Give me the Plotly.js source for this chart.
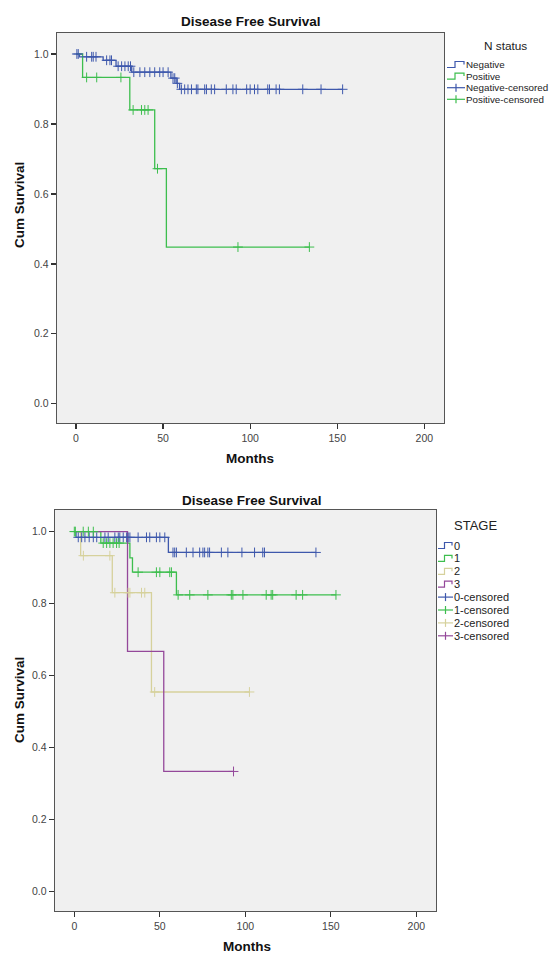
<!DOCTYPE html>
<html><head><meta charset="utf-8">
<script src="https://cdn.plot.ly/plotly-3.0.1.min.js"></script>
<style>html,body{margin:0;padding:0;background:#fff}#chart{width:555px;height:954px}</style>
</head><body><div id="chart"></div>
<script>
// ---------- DATA (months, cumulative survival) ----------
// Chart 1: N status
const nStatusNames = ['Negative', 'Positive'];
const negTimes = [0, 2, 15.6, 23, 32, 54.5, 57.5, 59.5, 153.1];
const negSurv  = [1, 0.992, 0.982, 0.965, 0.948, 0.931, 0.916, 0.899, 0.899];
const negCensored = [0.5, 1.3, 6.1, 9.0, 9.9, 11.5, 17.6, 19.5, 20.4, 24.2, 26.2, 28.1, 30.0, 31.3,
  33.2, 36.7, 39.5, 42.4, 45.2, 48.1, 50.0, 52.9, 55.7, 56.7, 58.2, 60.5, 62.4, 64.3, 66.3, 69.1,
  70.0, 73.9, 74.9, 77.7, 79.6, 86.3, 90.1, 92.0, 98.0, 100.0, 102.5, 104.4, 110.1, 111.1, 114.9,
  116.8, 130.2, 140.7, 153.1];
const posTimes = [0, 3.8, 30.9, 45.2, 51.9, 134];
const posSurv  = [1, 0.933, 0.840, 0.672, 0.448, 0.448];
const posCensored = [6.1, 11.9, 25.8, 32.8, 37.6, 39.5, 41.4, 46.8, 93, 134];

// Chart 2: STAGE
const stageNames = ['0', '1', '2', '3'];
const st0Times = [0, 1, 55, 141.3];
const st0Surv  = [1, 0.984, 0.942, 0.942];
const st0Censored = [2.3, 4.3, 6.2, 8.7, 11.1, 13.1, 17.9, 19.8, 23.7, 25.7, 26.6, 28.6, 30.6, 31.5,
  32.5, 37.3, 42.2, 44.1, 48.0, 50.0, 52.9, 57.7, 58.7, 59.7, 65.5, 69.4, 73.3, 75.2, 76.2, 78.1,
  79.1, 86.0, 89.8, 98.0, 105.4, 110.2, 111.2, 141.3];
const st1Times = [0, 15.5, 32.5, 34, 59.7, 153];
const st1Surv  = [1, 0.968, 0.927, 0.887, 0.824, 0.824];
const st1Censored = [0, 0.6, 5.2, 8.2, 11.1, 16.9, 18.9, 20.8, 22.7, 24.7, 26.2, 37.3, 48.0, 50.0,
  55.8, 56.8, 60.7, 67.5, 78.1, 91.8, 92.7, 98.6, 112.2, 115.1, 116.0, 129.7, 133.5, 153];
const st2Times = [0, 3.7, 22.2, 45.1, 102.4];
const st2Surv  = [1, 0.933, 0.830, 0.554, 0.554];
const st2Censored = [5.3, 20.8, 23.7, 31.5, 32.5, 39.3, 41.2, 47, 102.4];
const st3Times = [0, 31.1, 52.3, 93.1];
const st3Surv  = [1, 0.667, 0.333, 0.333];
const st3Censored = [93.1];

const xTicks = [0, 50, 100, 150, 200];
const yTicks = [0, 0.2, 0.4, 0.6, 0.8, 1.0];

// ---------- STYLE ----------
const FONT = 'Liberation Sans, Arial, sans-serif';
const nColors = ['#3E58AC', '#3DBE4E'];
const sColors = ['#3E58AC', '#3DBE4E', '#D6D19C', '#94489A'];
const W = 555, H = 954;
const px = x => x / W, py = y => 1 - y / H;

function stepAt(times, surv, t) {
  let s = surv[0];
  for (let i = 0; i < times.length; i++) { if (times[i] <= t) s = surv[i]; }
  return s;
}
function curve(name, times, surv, color, xa, ya) {
  return {type: 'scatter', mode: 'lines', name: name, x: times, y: surv, xaxis: xa, yaxis: ya,
    line: {shape: 'hv', color: color, width: 1.3}, showlegend: false, hoverinfo: 'x+y'};
}
function censored(name, cens, times, surv, color, xa, ya) {
  return {type: 'scatter', mode: 'markers', name: name + '-censored', x: cens,
    y: cens.map(t => stepAt(times, surv, t)), xaxis: xa, yaxis: ya, showlegend: false,
    marker: {symbol: 'cross-thin', size: 7, color: color, line: {color: color, width: 1}}};
}

const traces = [
  curve(nStatusNames[0], negTimes, negSurv, nColors[0], 'x', 'y'),
  curve(nStatusNames[1], posTimes, posSurv, nColors[1], 'x', 'y'),
  censored(nStatusNames[0], negCensored, negTimes, negSurv, nColors[0], 'x', 'y'),
  censored(nStatusNames[1], posCensored, posTimes, posSurv, nColors[1], 'x', 'y'),
  curve(stageNames[2], st2Times, st2Surv, sColors[2], 'x2', 'y2'),
  curve(stageNames[0], st0Times, st0Surv, sColors[0], 'x2', 'y2'),
  curve(stageNames[1], st1Times, st1Surv, sColors[1], 'x2', 'y2'),
  curve(stageNames[3], st3Times, st3Surv, sColors[3], 'x2', 'y2'),
  censored(stageNames[2], st2Censored, st2Times, st2Surv, sColors[2], 'x2', 'y2'),
  censored(stageNames[0], st0Censored, st0Times, st0Surv, sColors[0], 'x2', 'y2'),
  censored(stageNames[1], st1Censored, st1Times, st1Surv, sColors[1], 'x2', 'y2'),
  censored(stageNames[3], st3Censored, st3Times, st3Surv, sColors[3], 'x2', 'y2')
];

// ---------- legends (drawn as layout shapes + text) ----------
const shapes = [], annotations = [];
function legend(title, titleX, titleY, entries, x0, x1, xText, y0, dy, fs) {
  annotations.push({xref: 'paper', yref: 'paper', x: px(titleX), y: py(titleY), text: title,
    showarrow: false, xanchor: 'center', yanchor: 'middle', font: {family: FONT, size: fs + 2, color: '#222'}});
  entries.forEach((e, i) => {
    const yc = y0 + i * dy;
    const xm = (x0 + x1) / 2;
    if (e.kind === 'line') {
      const path = 'M' + px(x0) + ',' + py(yc + 3) + ' L' + px(xm - 1) + ',' + py(yc + 3) +
        ' L' + px(xm - 1) + ',' + py(yc - 3) + ' L' + px(x1 - 1) + ',' + py(yc - 3) +
        ' L' + px(x1 - 1) + ',' + py(yc);
      shapes.push({type: 'path', xref: 'paper', yref: 'paper', path: path, line: {color: e.color, width: 1.2}});
    } else {
      shapes.push({type: 'line', xref: 'paper', yref: 'paper', x0: px(x0), x1: px(x1), y0: py(yc), y1: py(yc), line: {color: e.color, width: 1.2}});
      shapes.push({type: 'line', xref: 'paper', yref: 'paper', x0: px(xm), x1: px(xm), y0: py(yc - 4), y1: py(yc + 4), line: {color: e.color, width: 1.2}});
    }
    annotations.push({xref: 'paper', yref: 'paper', x: px(xText), y: py(yc), text: e.name, showarrow: false,
      xanchor: 'left', yanchor: 'middle', borderpad: 0, font: {family: FONT, size: fs, color: '#222'}});
  });
}
legend('N status', 505, 46,
  nStatusNames.map((n, i) => ({name: n, color: nColors[i], kind: 'line'}))
    .concat(nStatusNames.map((n, i) => ({name: n + '-censored', color: nColors[i], kind: 'cens'}))),
  447, 465, 465, 64.5, 11.6, 9.8);
legend('STAGE', 475, 525,
  stageNames.map((n, i) => ({name: n, color: sColors[i], kind: 'line'}))
    .concat(stageNames.map((n, i) => ({name: n + '-censored', color: sColors[i], kind: 'cens'}))),
  438, 453, 453, 545.5, 12.9, 11);

function label(text, x, y, size, angle) {
  annotations.push({xref: 'paper', yref: 'paper', x: px(x), y: py(y), text: text, showarrow: false,
    xanchor: 'center', yanchor: 'middle', textangle: angle || 0,
    font: {family: FONT, size: size, color: '#111', weight: 'bold'}});
}
label('Disease Free Survival', 251, 22, 13.5);
label('Months', 250, 458, 13.5);
label('Cum Survival', 19, 205, 13.5, -90);
label('Disease Free Survival', 252, 500, 13.5);
label('Months', 247, 946, 13.5);
label('Cum Survival', 19, 700, 13.5, -90);

function xAxis(d, r, anchor) {
  return {domain: d, range: r, anchor: anchor, tickvals: xTicks, ticks: 'outside', ticklen: 5, tickwidth: 1.3,
    tickcolor: '#333', showline: true, mirror: true, linecolor: '#555', linewidth: 1.4, showgrid: false,
    zeroline: false, tickfont: {family: FONT, size: 10.5, color: '#444'}, fixedrange: true};
}
function yAxis(d, r, anchor) {
  return {domain: d, range: r, anchor: anchor, tickvals: yTicks, tickformat: '.1f', ticks: 'outside', ticklen: 5,
    tickwidth: 1.3, tickcolor: '#333', showline: true, mirror: true, linecolor: '#555', linewidth: 1.4,
    showgrid: false, zeroline: false, tickfont: {family: FONT, size: 10.5, color: '#444'}, fixedrange: true};
}

const layout = {
  width: W, height: H, margin: {l: 0, r: 0, t: 0, b: 0},
  paper_bgcolor: '#ffffff', plot_bgcolor: '#F0F0F0', showlegend: false,
  xaxis: xAxis([px(57), px(444)], [-10.9, 211.3], 'y'),
  yaxis: yAxis([py(423), py(33)], [-0.055, 1.06], 'x'),
  xaxis2: xAxis([px(55), px(436)], [-11.3, 211.5], 'y2'),
  yaxis2: yAxis([py(911), py(510)], [-0.055, 1.06], 'x2'),
  shapes: shapes, annotations: annotations
};
Plotly.newPlot('chart', traces, layout, {displayModeBar: false, staticPlot: true});
</script></body></html>
